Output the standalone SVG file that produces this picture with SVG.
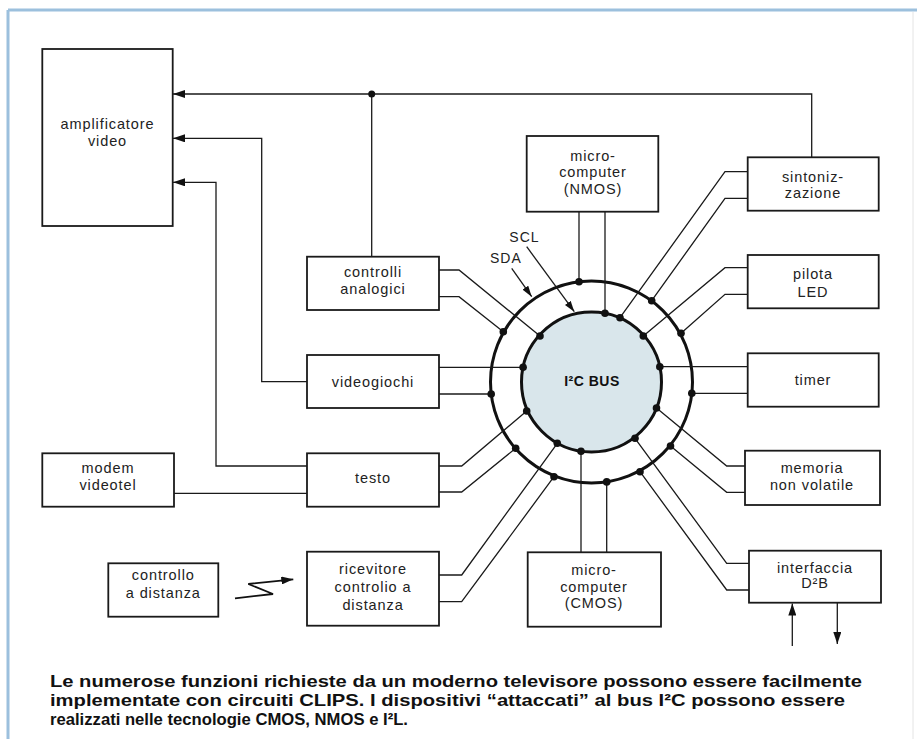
<svg xmlns="http://www.w3.org/2000/svg" width="917" height="739" viewBox="0 0 917 739">
<style>
.box{fill:#fff;stroke:#1a1a1a;stroke-width:1.8}
.w{fill:none;stroke:#1a1a1a;stroke-width:1.3}
.ring{fill:none;stroke:#111;stroke-width:3}
.dot{fill:#111}
.t{font-family:"Liberation Sans",Arial,sans-serif;font-size:14.5px;fill:#222;text-anchor:middle;letter-spacing:0.9px}
.lbl{font-family:"Liberation Sans",Arial,sans-serif;font-size:14px;fill:#222;letter-spacing:1px}
.cap{font-family:"Liberation Sans",Arial,sans-serif;font-size:17px;font-weight:bold;fill:#111}
</style>
<defs>
<marker id="ah" markerWidth="12" markerHeight="8" refX="12" refY="4" orient="auto" markerUnits="userSpaceOnUse"><path d="M0,0 L12,4 L0,8 z" fill="#111"/></marker>
<marker id="ahs" markerWidth="11" markerHeight="7" refX="11" refY="3.5" orient="auto" markerUnits="userSpaceOnUse"><path d="M0,0 L11,3.5 L0,7 z" fill="#111"/></marker>
</defs>
<rect width="917" height="739" fill="#fff"/>
<g id="frame">
<line x1="8" y1="10" x2="917" y2="10" stroke="#9cc0dd" stroke-width="3"/>
<line x1="8" y1="10" x2="8" y2="739" stroke="#9cc0dd" stroke-width="3"/>
<line x1="913" y1="12" x2="913" y2="739" stroke="#e4e4e4" stroke-width="1"/>
</g>
<g id="bus">
<circle cx="591.5" cy="382" r="70" fill="#d9e6eb"/>
<circle class="ring" cx="591.5" cy="382" r="101"/>
<circle class="ring" cx="591.5" cy="382" r="70"/>
<text x="592" y="386" style="font-family:'Liberation Sans',Arial,sans-serif;font-size:14px;font-weight:bold;fill:#111;text-anchor:middle;letter-spacing:0.5px">I²C BUS</text>
</g>
<g id="connectors">
<path class="w" d="M811.7,157.3 V94 H173" marker-end="url(#ah)"/>
<path class="w" d="M371.7,94 V256.7"/>
<path class="w" d="M307,381.7 H261.7 V138.3 H173" marker-end="url(#ah)"/>
<path class="w" d="M307,466 H216 V182.3 H173" marker-end="url(#ah)"/>
<path class="w" d="M174,493.3 H307"/>
<path class="w" d="M439,270 H459 L540,336"/>
<path class="w" d="M439,296.7 H459 L503.3,331.7"/>
<path class="w" d="M439,367.3 H523.1"/>
<path class="w" d="M439,394 H491.2"/>
<path class="w" d="M439,466 H461.7 L526.7,411"/>
<path class="w" d="M439,492 H461.7 L515.7,448.3"/>
<path class="w" d="M439,575 H461.7 L557.3,443.3"/>
<path class="w" d="M439,601.7 H461.7 L554,476.7"/>
<path class="w" d="M579,211.7 V281.8"/>
<path class="w" d="M605,211.7 V313.3"/>
<path class="w" d="M747.7,171.7 H725 L620,317.7"/>
<path class="w" d="M747.7,198.3 H725 L651.7,300.7"/>
<path class="w" d="M747.7,267.7 H725 L643.3,336"/>
<path class="w" d="M747.7,294.3 H725 L681,333.3"/>
<path class="w" d="M747.7,366.7 H659.8"/>
<path class="w" d="M747.7,393.3 H691.8"/>
<path class="w" d="M745,466 H726.7 L656.5,408"/>
<path class="w" d="M745,492.3 H726.7 L670.5,446"/>
<path class="w" d="M749,563.3 H726.7 L635,438.3"/>
<path class="w" d="M749,590 H726.7 L640,471.7"/>
<path class="w" d="M581,552.3 V451.2"/>
<path class="w" d="M606.7,552.3 V481.9"/>
<path class="w" d="M792.3,646 V603.5" marker-end="url(#ah)"/>
<path class="w" d="M837.3,603 V644" marker-end="url(#ah)"/>
<polyline points="235,598.3 273,594 248.3,584 293.3,579.3" fill="none" stroke="#111" stroke-width="1.8" marker-end="url(#ah)"/>
<path class="w" d="M526.7,246.7 L574.3,311.7" marker-end="url(#ahs)"/>
<path class="w" d="M511.7,268.3 L531.7,296.7" marker-end="url(#ahs)"/>
<g class="dot">
<circle cx="371.7" cy="94" r="3.5"/>
<circle cx="540" cy="336" r="3.8"/>
<circle cx="503.3" cy="331.7" r="3.8"/>
<circle cx="523.1" cy="367.3" r="3.8"/>
<circle cx="491.2" cy="394" r="3.8"/>
<circle cx="526.7" cy="411" r="3.8"/>
<circle cx="515.7" cy="448.3" r="3.8"/>
<circle cx="557.3" cy="443.3" r="3.8"/>
<circle cx="554" cy="476.7" r="3.8"/>
<circle cx="579" cy="281.8" r="3.8"/>
<circle cx="605" cy="313.3" r="3.8"/>
<circle cx="620" cy="317.7" r="3.8"/>
<circle cx="651.7" cy="300.7" r="3.8"/>
<circle cx="643.3" cy="336" r="3.8"/>
<circle cx="681" cy="333.3" r="3.8"/>
<circle cx="659.8" cy="366.7" r="3.8"/>
<circle cx="691.8" cy="393.3" r="3.8"/>
<circle cx="656.5" cy="408" r="3.8"/>
<circle cx="670.5" cy="446" r="3.8"/>
<circle cx="635" cy="438.3" r="3.8"/>
<circle cx="640" cy="471.7" r="3.8"/>
<circle cx="581" cy="451.2" r="3.8"/>
<circle cx="606.7" cy="481.9" r="3.8"/>
</g>
<text class="lbl" x="509.3" y="241.7">SCL</text>
<text class="lbl" x="490" y="263.3">SDA</text>
</g>
<g id="amplificatore">
<rect class="box" x="42.3" y="49" width="130.4" height="177"/>
<text class="t" x="107.5" y="129.3">amplificatore</text>
<text class="t" x="107.5" y="146">video</text>
</g>
<g id="controlli">
<rect class="box" x="307" y="256.7" width="132" height="53.3"/>
<text class="t" x="373" y="276.7">controlli</text>
<text class="t" x="373" y="294">analogici</text>
</g>
<g id="videogiochi">
<rect class="box" x="307" y="355" width="132" height="53"/>
<text class="t" x="373" y="387">videogiochi</text>
</g>
<g id="testo">
<rect class="box" x="307" y="453.3" width="132" height="53.4"/>
<text class="t" x="373" y="482.7">testo</text>
</g>
<g id="ricevitore">
<rect class="box" x="307" y="551.7" width="132" height="74"/>
<text class="t" x="373" y="574">ricevitore</text>
<text class="t" x="373" y="591.7">controlio a</text>
<text class="t" x="373" y="610">distanza</text>
</g>
<g id="modem">
<rect class="box" x="42.3" y="453.3" width="131.7" height="53.4"/>
<text class="t" x="108" y="473">modem</text>
<text class="t" x="108" y="490">videotel</text>
</g>
<g id="controllo">
<rect class="box" x="108.3" y="563.3" width="110" height="53.4"/>
<text class="t" x="163.3" y="580">controllo</text>
<text class="t" x="163.3" y="598">a distanza</text>
</g>
<g id="nmos">
<rect class="box" x="526.7" y="136" width="131.6" height="75.7"/>
<text class="t" x="593" y="160.7">micro-</text>
<text class="t" x="593" y="177.3">computer</text>
<text class="t" x="593" y="194">(NMOS)</text>
</g>
<g id="cmos">
<rect class="box" x="527.7" y="552.3" width="133.3" height="74.4"/>
<text class="t" x="594" y="575">micro-</text>
<text class="t" x="594" y="591.7">computer</text>
<text class="t" x="594" y="608.3">(CMOS)</text>
</g>
<g id="sintonizzazione">
<rect class="box" x="747.7" y="157.3" width="131" height="53.4"/>
<text class="t" x="813" y="181.7">sintoniz-</text>
<text class="t" x="813" y="198.3">zazione</text>
</g>
<g id="pilota">
<rect class="box" x="747.7" y="255" width="131" height="53.3"/>
<text class="t" x="813" y="279.3">pilota</text>
<text class="t" x="813" y="296.7">LED</text>
</g>
<g id="timer">
<rect class="box" x="747.7" y="353.3" width="131" height="53.4"/>
<text class="t" x="813" y="384.5">timer</text>
</g>
<g id="memoria">
<rect class="box" x="745" y="450.7" width="135" height="54.3"/>
<text class="t" x="812" y="473.3">memoria</text>
<text class="t" x="812" y="490">non volatile</text>
</g>
<g id="interfaccia">
<rect class="box" x="749" y="550.7" width="132" height="52"/>
<text class="t" x="815" y="572.7">interfaccia</text>
<text class="t" x="815" y="588.3">D²B</text>
</g>
<g id="caption">
<text class="cap" x="50" y="687" textLength="812" lengthAdjust="spacingAndGlyphs">Le numerose funzioni richieste da un moderno televisore possono essere facilmente</text>
<text class="cap" x="50" y="706" textLength="795" lengthAdjust="spacingAndGlyphs">implementate con circuiti CLIPS. I dispositivi “attaccati” al bus I²C possono essere</text>
<text class="cap" x="50" y="725" textLength="358" lengthAdjust="spacingAndGlyphs">realizzati nelle tecnologie CMOS, NMOS e I²L.</text>
</g>
</svg>
